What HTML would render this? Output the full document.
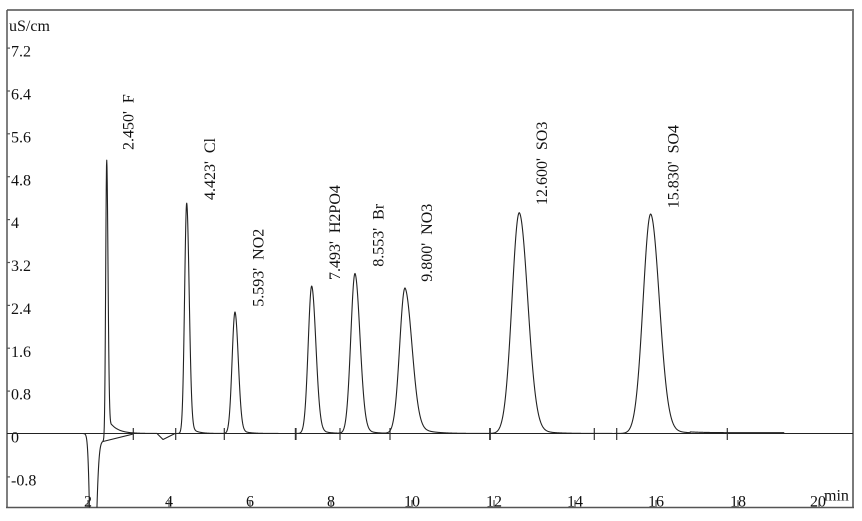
<!DOCTYPE html>
<html><head><meta charset="utf-8">
<style>
html,body{margin:0;padding:0;background:#fff;}
svg{display:block;}
text{font-family:"Liberation Serif","Times New Roman",serif;font-size:16px;fill:#111;}
</style></head><body>
<svg id="s" width="862" height="521" viewBox="0 0 862 521" xmlns="http://www.w3.org/2000/svg">
<defs><clipPath id="c"><rect x="7" y="10" width="846" height="497.5"/></clipPath></defs>
<rect x="0" y="0" width="862" height="521" fill="#fff"/>
<!-- frame -->
<line x1="7" y1="10" x2="853" y2="10" stroke="#7a7a7a" stroke-width="2"/>
<line x1="853" y1="9" x2="853" y2="508" stroke="#7a7a7a" stroke-width="2"/>
<line x1="7" y1="10" x2="7" y2="508" stroke="#555" stroke-width="1.5"/>
<line x1="6" y1="507.5" x2="854" y2="507.5" stroke="#555" stroke-width="1.5"/>

<!-- y axis -->
<text x="9" y="31">uS/cm</text>
<g stroke="#555" stroke-width="1.2">
<line x1="7" y1="48.1" x2="10" y2="48.1"/>
<line x1="7" y1="91" x2="10" y2="91"/>
<line x1="7" y1="133.8" x2="10" y2="133.8"/>
<line x1="7" y1="176.7" x2="10" y2="176.7"/>
<line x1="7" y1="219.6" x2="10" y2="219.6"/>
<line x1="7" y1="262.5" x2="10" y2="262.5"/>
<line x1="7" y1="305.4" x2="10" y2="305.4"/>
<line x1="7" y1="348.2" x2="10" y2="348.2"/>
<line x1="7" y1="391.1" x2="10" y2="391.1"/>
<line x1="7" y1="476.9" x2="10" y2="476.9"/>
</g>
<text x="11" y="56.7">7.2</text>
<text x="11" y="99.6">6.4</text>
<text x="11" y="142.4">5.6</text>
<text x="11" y="185.3">4.8</text>
<text x="11" y="228.2">4</text>
<text x="11" y="271.1">3.2</text>
<text x="11" y="314">2.4</text>
<text x="11" y="356.8">1.6</text>
<text x="11" y="399.7">0.8</text>
<text x="11" y="442.6">0</text>
<text x="11" y="485.5">-0.8</text>

<!-- x axis -->
<g text-anchor="middle">
<text x="88" y="506.5">2</text>
<text x="169" y="506.5">4</text>
<text x="250" y="506.5">6</text>
<text x="331" y="506.5">8</text>
<text x="412" y="506.5">10</text>
<text x="494" y="506.5">12</text>
<text x="575" y="506.5">14</text>
<text x="656" y="506.5">16</text>
<text x="738" y="506.5">18</text>
<text x="818" y="506.5">20</text>
</g>
<text x="824" y="500.5">min</text>
<g stroke="#444" stroke-width="1.1">
<line x1="88" y1="500" x2="88" y2="507"/>
<line x1="169" y1="500" x2="169" y2="507"/>
<line x1="250" y1="500" x2="250" y2="507"/>
<line x1="331" y1="500" x2="331" y2="507"/>
<line x1="412" y1="500" x2="412" y2="507"/>
<line x1="494" y1="500" x2="494" y2="507"/>
<line x1="575" y1="500" x2="575" y2="507"/>
<line x1="656" y1="500" x2="656" y2="507"/>
<line x1="738" y1="500" x2="738" y2="507"/>
<line x1="819" y1="500" x2="819" y2="507"/>
</g>

<!-- baseline -->
<line x1="7" y1="433.5" x2="853" y2="433.5" stroke="#222" stroke-width="1.1"/>
<line x1="103" y1="441.5" x2="133.3" y2="434" stroke="#222" stroke-width="1.1"/>
<g stroke="#333" stroke-width="1.2">
<line x1="133.3" y1="428" x2="133.3" y2="440"/>
<line x1="175.7" y1="428" x2="175.7" y2="440"/>
<line x1="224.3" y1="428" x2="224.3" y2="440"/>
<line x1="295.7" y1="428" x2="295.7" y2="440" stroke-width="1.8"/>
<line x1="340" y1="428" x2="340" y2="440"/>
<line x1="390" y1="428" x2="390" y2="440"/>
<line x1="490" y1="428" x2="490" y2="440" stroke-width="1.8"/>
<line x1="594.3" y1="428" x2="594.3" y2="440"/>
<line x1="616.7" y1="428" x2="616.7" y2="440"/>
<line x1="727.3" y1="428" x2="727.3" y2="440"/>
</g>

<!-- peak labels -->
<g style="white-space:pre">
<text xml:space="preserve" transform="translate(133.5,150) rotate(-90)">2.450'  F</text>
<text xml:space="preserve" transform="translate(215,200) rotate(-90)">4.423'  Cl</text>
<text xml:space="preserve" transform="translate(263.5,306.7) rotate(-90)">5.593'  NO2</text>
<text xml:space="preserve" transform="translate(340,280) rotate(-90)">7.493'  H2PO4</text>
<text xml:space="preserve" transform="translate(383.5,266.7) rotate(-90)">8.553'  Br</text>
<text xml:space="preserve" transform="translate(432,281.7) rotate(-90)">9.800'  NO3</text>
<text xml:space="preserve" transform="translate(547,205) rotate(-90)">12.600'  SO3</text>
<text xml:space="preserve" transform="translate(678.5,208.3) rotate(-90)">15.830'  SO4</text>
</g>

<path id="sig" clip-path="url(#c)" fill="none" stroke="#222" stroke-width="1.1" stroke-linejoin="round" d=""/>
</svg>
<script>
(function(){
var peaks=[
[106.7,278.5,1.0,1.3,0.06,8],
[186.7,230.5,2.1,2.5,0.05,6],
[235,121.5,2.9,3.3,0.06,7],
[311.7,147.5,3.5,4.2,0.06,8],
[355,160,4.2,5.0,0.06,9],
[405,145.5,5.3,7.0,0.1,13],
[519.3,220.8,7.3,8.5,0.05,14],
[650.7,219.5,7.6,8.7,0.05,15]
];
function s(x){
  var v=0;
  for(var i=0;i<peaks.length;i++){
    var p=peaks[i],c=p[0],h=p[1],sl=p[2],sr=p[3],w=p[4],t=p[5];
    var d=x-c;
    if(d<0){v+=h*Math.exp(-0.5*(d/sl)*(d/sl));}
    else{v+=h*((1-w)*Math.exp(-0.5*(d/sr)*(d/sr))+w*Math.exp(-d/t));}
  }
  var dd=x-92.5, sg=dd<0?2.2:3;
  v-=200*Math.exp(-0.5*(dd/sg)*(dd/sg));
  if(x>=90&&x<104){v-=7.5*Math.min(1,(x-90)/2);}
  else if(x>=104&&x<112){v-=7.5*(1-(x-104)/8);}
  if(x>157&&x<175){v-= x<163 ? 6*(x-157)/6 : 6*(175-x)/12;}
  if(x>690&&x<784){v+=0.8;}
  return v;
}
var d=[];
for(var x=7;x<=853;x+=0.25){
  var y=433.5-s(x);
  if(y>530)y=530;
  d.push((d.length?'L':'M')+x.toFixed(2)+' '+y.toFixed(2));
}
document.getElementById('sig').setAttribute('d',d.join(''));
})();
</script>
</body></html>
